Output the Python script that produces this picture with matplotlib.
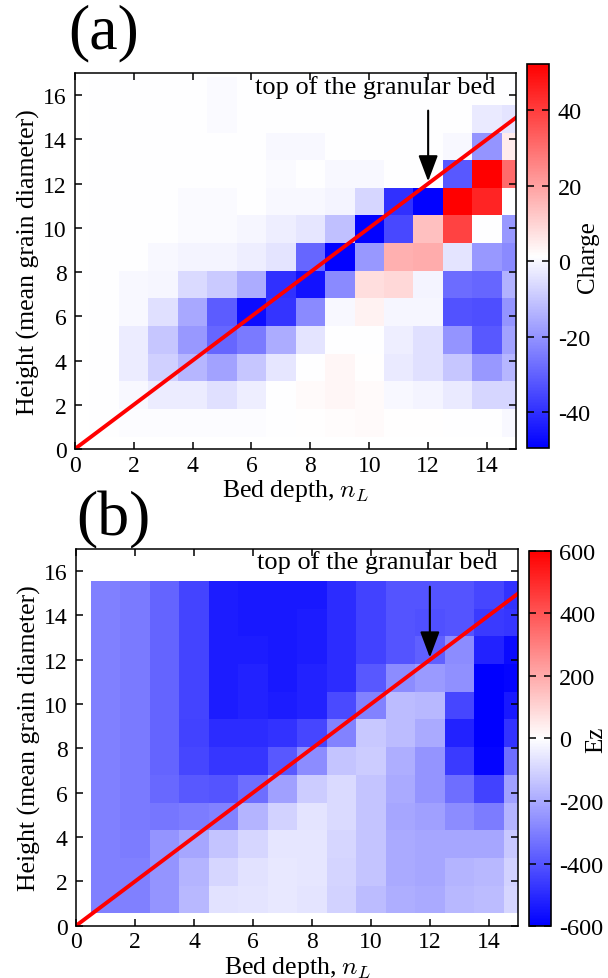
import numpy as np
import matplotlib.pyplot as plt
from matplotlib.colors import Normalize

plt.rcParams['font.family'] = 'Liberation Serif'
plt.rcParams['mathtext.fontset'] = 'cm'
plt.rcParams['axes.unicode_minus'] = False

# bed depth columns (centres 1..15) and height rows (bottom -> top)
depth = np.arange(1, 16)
row_h = 1.25
row0 = 0.56

# (a) charge per cell, rows bottom -> top, columns n_L = 1..15
charge = np.array([
    [1, 0.8, 0.8, 0.8, 0.8, 0.8, 1.3, 1.5, 1.8, 2.2, 1.5, 1.5, 1, 1, 0],
    [1, 0, -2.5, -2.5, -5, -2, 1, 2.5, 3, 2.5, 0, -1, -3, -7, -7],
    [1, -2.5, -8, -13, -17, -10, -3.5, 1, 3, 1.5, -3, -5, -10, -19, -13],
    [1, -2.5, -10, -19, -29, -25, -15, -4, 1, 1.3, -2, -5, -20, -32, -17],
    [1, 0, -5, -16, -31, -47, -39, -22, 0, 4, -0.5, -0.5, -33, -34, -20],
    [1, 0, -0.5, -6, -9, -15, -40, -46, -22, 8, 9, -1, -28, -29, -14],
    [1, 1, 0, -1, -1, -2, -4, -29, -49, -19, 17, 18, -4, -19, -22],
    [1, 1, 1, 0.5, 0.5, -0.5, -2, -3.5, -11, -49, -35, 14, 39, 1.3, -19],
    [1, 1, 1, 0.5, 0.5, 1, 0, 0, -1, -7, -40, -49, 52, 45, 1.3],
    [1, 1, 1, 1, 1, 1, 0.5, 1, 0, 0, 1, 1, -32, 52, 31],
    [1, 1, 1, 1, 1, 1, 0, 0, 1, 1, 1, 1, 0, -20, 5],
    [1, 1, 1, 1, 0.2, 1, 1, 1, 1, 1, 1, 1, 1, -3, -4],
    [1, 1, 1, 1, 0.2, 1, 1, 1, 1, 1, 1, 1, 1, 1, 1],
])

# (b) Ez per cell, rows bottom -> top
ez = np.array([
    [-300, -300, -250, -165, -70, -65, -55, -65, -105, -155, -190, -200, -165, -155, -95],
    [-300, -300, -250, -175, -95, -70, -55, -60, -100, -140, -200, -210, -175, -165, -105],
    [-300, -305, -250, -210, -140, -95, -60, -60, -95, -140, -200, -210, -210, -210, -130],
    [-300, -310, -320, -305, -295, -175, -105, -65, -85, -140, -210, -225, -270, -305, -175],
    [-300, -310, -355, -390, -400, -340, -225, -120, -85, -140, -200, -250, -340, -445, -225],
    [-300, -310, -365, -435, -470, -470, -390, -270, -140, -120, -190, -250, -460, -590, -340],
    [-300, -310, -365, -445, -495, -495, -480, -435, -295, -130, -155, -200, -520, -600, -480],
    [-300, -310, -365, -440, -530, -520, -530, -520, -425, -295, -155, -165, -435, -600, -540],
    [-300, -310, -365, -440, -530, -520, -540, -520, -495, -390, -270, -235, -260, -600, -590],
    [-300, -310, -365, -440, -530, -530, -540, -530, -495, -445, -400, -375, -270, -520, -575],
    [-300, -310, -365, -440, -530, -540, -540, -530, -495, -445, -400, -410, -400, -460, -470],
    [-300, -310, -365, -440, -530, -540, -540, -540, -495, -445, -400, -400, -400, -435, -480],
])

bed_top = [0, 15]
arrow_x = 12
arrow_from = 15.3
arrow_to = 12.1
label_txt = 'top of the granular bed'

xticks = np.arange(0, 16, 2)
yticks = np.arange(0, 17, 2)

fig = plt.figure(figsize=(6.08, 9.79), dpi=100)
ax_a = fig.add_axes([0.1229, 0.5403, 0.7266, 0.3841])
cax_a = fig.add_axes([0.8673, 0.5411, 0.0362, 0.3926])
ax_b = fig.add_axes([0.125, 0.0534, 0.7275, 0.3848])
cax_b = fig.add_axes([0.870, 0.0528, 0.0362, 0.3837])


def draw_panel(ax, cax, data, norm, cticks, clabel, lab_x, txt_y):
    x_edges = np.append(depth - 0.5, depth[-1] + 0.5)
    y_edges = row0 + row_h * np.arange(data.shape[0] + 1)
    mesh = ax.pcolormesh(x_edges, y_edges, data, cmap='bwr', norm=norm,
                         edgecolors='face', linewidth=0)
    ax.plot(bed_top, bed_top, color='red', lw=2.8)
    ax.annotate('', xy=(arrow_x, arrow_to), xytext=(arrow_x, arrow_from),
                arrowprops=dict(arrowstyle='-|>,head_length=0.4,head_width=0.15',
                                color='black', lw=1.5, mutation_scale=40,
                                shrinkA=0, shrinkB=0))
    ax.text(14.3, txt_y, label_txt, ha='right', va='center', fontsize=19)
    ax.set_xlim(0, 15)
    ax.set_ylim(0, 17)
    ax.set_xticks(xticks)
    ax.set_yticks(yticks)
    ax.tick_params(direction='in', top=True, right=True, length=5, width=1.1,
                   labelsize=17)
    ax.tick_params(axis='x', pad=4)
    ax.tick_params(axis='y', pad=6)
    for s in ax.spines.values():
        s.set_linewidth(1.1)
    ax.set_xlabel(r'Bed depth, $n_L$', fontsize=18.5, labelpad=1)
    ax.set_ylabel('Height (mean grain diameter)', fontsize=18.5, labelpad=2)

    cb = fig.colorbar(mesh, cax=cax, ticks=cticks)
    cb.outline.set_linewidth(1.2)
    cax.tick_params(direction='in', left=True, right=True, length=5, width=1.1,
                    labelsize=17.5, pad=6)
    cb.set_label(clabel, fontsize=18)
    cax.yaxis.set_label_coords(lab_x, 0.5)
    return mesh


draw_panel(ax_a, cax_a, charge, Normalize(-49.6, 52.3), [-40, -20, 0, 20, 40],
           'Charge', 2.25, 16.4)
draw_panel(ax_b, cax_b, ez, Normalize(-600, 600),
           [-600, -400, -200, 0, 200, 400, 600], 'Ez', 2.55, 16.45)

fig.text(68 / 608, 1 - 48 / 979, '(a)', fontsize=46, ha='left', va='baseline')
fig.text(76 / 608, 1 - 535 / 979, '(b)', fontsize=46, ha='left', va='baseline')

fig.savefig('out.png', dpi=100)
